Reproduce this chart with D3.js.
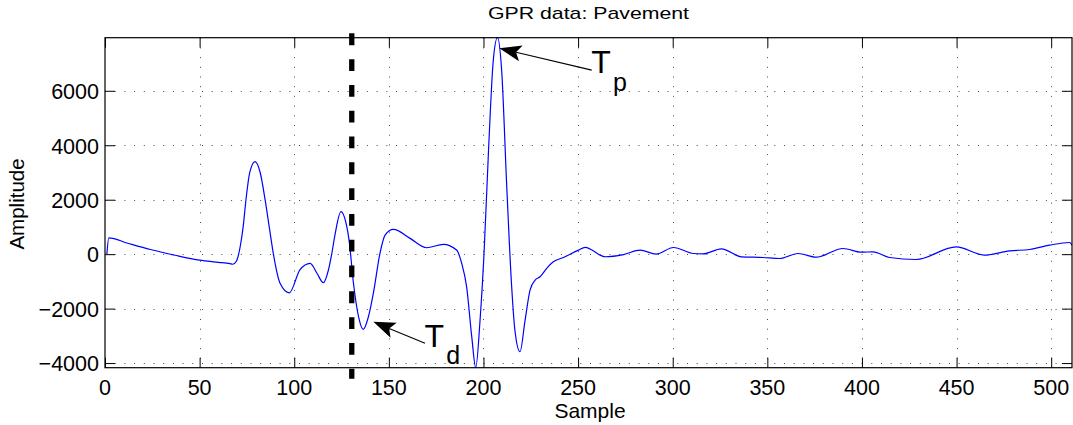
<!DOCTYPE html>
<html>
<head>
<meta charset="utf-8">
<script src="https://cdn.jsdelivr.net/npm/d3@7/dist/d3.min.js"></script>
<style>
  html, body { margin: 0; padding: 0; background: #fff; }
  svg { display: block; }
  text { font-family: "Liberation Sans", Arial, Helvetica, sans-serif; fill: #000; }
</style>
</head>
<body>
<svg id="chart" width="1073" height="425"></svg>
<script>
// ---- data ----
const samples = [1, 2, 12, 24, 37, 50, 60, 66, 67.5, 69.5, 71.5, 73, 74.5, 76.5, 79.3, 82, 84.6, 87, 89, 92.5,
  97.4, 103, 108.4, 112, 115.4, 118, 119.8, 121.5, 124.7, 127.5, 129, 131.3, 134, 136.5, 139.2, 141.8, 145.3, 148,
  152.4, 161.2, 170, 178.8, 185.8, 188.5, 191.1, 193.8, 195.9, 198.2, 200.3, 202.6, 205.2, 207.4, 209.6, 212.3,
  214.9, 216.6, 219.3, 222, 224.6, 227.3, 229.9, 233.4, 236.9, 242.3, 250.2, 253.7, 264.3, 274, 282.8, 291.3,
  300.4, 311, 316, 325.7, 336.3, 347.7, 356.5, 366.2, 375.9, 390, 399.7, 405.8, 414.6, 428.7, 449.8, 464.8, 478,
  488.6, 499.1, 509.7, 511];
const amplitude = [0, 600, 400, 170, -40, -220, -300, -350, -370, -250, 300, 1000, 2000, 3000, 3400, 3000, 2000, 900, 0, -1070,
  -1420, -580, -340, -700, -1050, -600, 0, 700, 1560, 1100, 500, -1070, -2300, -2760, -2300, -1440, 30, 700,
  910, 580, 236, 360, 150, -340, -1200, -3030, -4170, -2420, 30, 3700, 7130, 7950, 6760, 2480,
  -1200, -2790, -3584, -2420, -1320, -950, -830, -520, -280, -120, 150, 250, -95, -15, 147, 0,
  245, 24, 12, 196, -98, -122, -159, 24, -110, 208, 73, 86, -122, -196, 269, -37, 122,
  171, 330, 428, 330];

const xDomain = [0, 511];
const yDomain = [-4170, 7950];
const xTicks = [0, 50, 100, 150, 200, 250, 300, 350, 400, 450, 500];
const yTicks = [-4000, -2000, 0, 2000, 4000, 6000];

const markerSample = 130.4;           // vertical dashed marker
const markerRange = [8110, -4580];    // extends beyond the axes

const annotations = [
  { label: "T", sub: "p", tip: [208.4, 7558], tail: [257.2, 6760], text: [257.0, 6640] },
  { label: "T", sub: "d", tip: [141.8, -2483], tail: [169.1, -3276], text: [168.9, -3400] }
];

const titleText = "GPR data: Pavement";
const xLabel = "Sample";
const yLabel = "Amplitude";

// ---- layout ----
const svg = d3.select("#chart");
const L = 105, R = 1072, T = 37.7, B = 367.7;
const x = d3.scaleLinear().domain(xDomain).range([L, R]);
const y = d3.scaleLinear().domain(yDomain).range([B, T]);

// grid
const grid = svg.append("g").attr("stroke", "#000").attr("stroke-width", 1)
  .attr("stroke-dasharray", "1,8.7").attr("opacity", 0.7);
xTicks.filter(t => t > xDomain[0] && t < xDomain[1]).forEach(t => {
  const px = Math.round(x(t)) + 0.5;
  grid.append("line").attr("x1", px).attr("x2", px).attr("y1", T).attr("y2", B);
});
yTicks.forEach(t => {
  const py = Math.round(y(t)) + 0.5;
  grid.append("line").attr("x1", L).attr("x2", R).attr("y1", py).attr("y2", py);
});

// curve
svg.append("defs").append("clipPath").attr("id", "plotclip")
  .append("rect").attr("x", L).attr("y", T - 1).attr("width", R - L).attr("height", B - T + 2);
const pts = samples.map((s, i) => [s, amplitude[i]]);
const line = d3.line().x(d => x(d[0])).y(d => y(d[1])).curve(d3.curveMonotoneX);
svg.append("path").datum(pts).attr("d", line)
  .attr("fill", "none").attr("stroke", "#0000ff").attr("stroke-width", 1.2)
  .attr("clip-path", "url(#plotclip)");

// axes (box + inward ticks on all sides)
const axG = svg.append("g");
const tl = 10;
const xAxB = d3.axisBottom(x).tickValues(xTicks).tickSizeInner(-tl).tickSizeOuter(0).tickFormat("");
const xAxT = d3.axisTop(x).tickValues(xTicks).tickSizeInner(-tl).tickSizeOuter(0).tickFormat("");
const yAxL = d3.axisLeft(y).tickValues(yTicks).tickSizeInner(-tl).tickSizeOuter(0).tickFormat("");
const yAxR = d3.axisRight(y).tickValues(yTicks).tickSizeInner(-tl).tickSizeOuter(0).tickFormat("");
axG.append("g").attr("transform", `translate(0,${B})`).call(xAxB);
axG.append("g").attr("transform", `translate(0,${T})`).call(xAxT);
axG.append("g").attr("transform", `translate(${L},0)`).call(yAxL);
axG.append("g").attr("transform", `translate(${R},0)`).call(yAxR);
axG.selectAll("path.domain").remove();
axG.selectAll(".tick line").attr("stroke", "#000").attr("stroke-width", 1);
svg.append("rect").attr("x", L).attr("y", T).attr("width", R - L).attr("height", B - T)
  .attr("fill", "none").attr("stroke", "#000").attr("stroke-width", 1.2);

// tick labels
const fmt = v => (v < 0 ? "\u2212" + Math.abs(v) : String(v));
svg.append("g").selectAll("text").data(xTicks).join("text")
  .attr("x", d => x(d)).attr("y", 394.5).attr("text-anchor", "middle")
  .attr("font-size", 21.5).text(fmt);
svg.append("g").selectAll("text").data(yTicks).join("text")
  .attr("x", 99).attr("y", d => y(d) + 8.3).attr("text-anchor", "end")
  .attr("font-size", 21.5).text(fmt);

// labels
svg.append("text").attr("x", (L + R) / 2).attr("y", 19).attr("text-anchor", "middle")
  .attr("font-size", 17).attr("textLength", 201).attr("lengthAdjust", "spacingAndGlyphs").text(titleText);
svg.append("text").attr("x", 590).attr("y", 418).attr("text-anchor", "middle")
  .attr("font-size", 21).text(xLabel);
svg.append("text").attr("transform", "translate(24,204) rotate(-90)").attr("text-anchor", "middle")
  .attr("font-size", 20.5).text(yLabel);

// dashed marker
svg.append("line").attr("x1", x(markerSample)).attr("x2", x(markerSample))
  .attr("y1", y(markerRange[0])).attr("y2", y(markerRange[1]))
  .attr("stroke", "#000").attr("stroke-width", 5.3).attr("stroke-dasharray", "11.8,14");

// annotations
annotations.forEach(a => {
  const tx = x(a.tip[0]), ty = y(a.tip[1]);
  const sx = x(a.tail[0]), sy = y(a.tail[1]);
  const ang = Math.atan2(sy - ty, sx - tx);
  const len = 22, hw = 8;
  const ux = Math.cos(ang), uy = Math.sin(ang);
  const bx = tx + ux * len, by = ty + uy * len;
  const nx = tx + ux * len * 0.78, ny = ty + uy * len * 0.78;
  svg.append("line").attr("x1", sx).attr("y1", sy).attr("x2", nx).attr("y2", ny)
    .attr("stroke", "#000").attr("stroke-width", 1.1);
  svg.append("path")
    .attr("d", `M${tx},${ty}L${bx - uy * hw},${by + ux * hw}L${nx},${ny}L${bx + uy * hw},${by - ux * hw}Z`)
    .attr("fill", "#000");
  const t = svg.append("text").attr("x", x(a.text[0])).attr("y", y(a.text[1])).attr("font-size", 32);
  t.append("tspan").text(a.label);
  t.append("tspan").attr("dx", 2).attr("dy", 17.5).attr("font-size", 25).text(a.sub);
});
</script>
</body>
</html>
